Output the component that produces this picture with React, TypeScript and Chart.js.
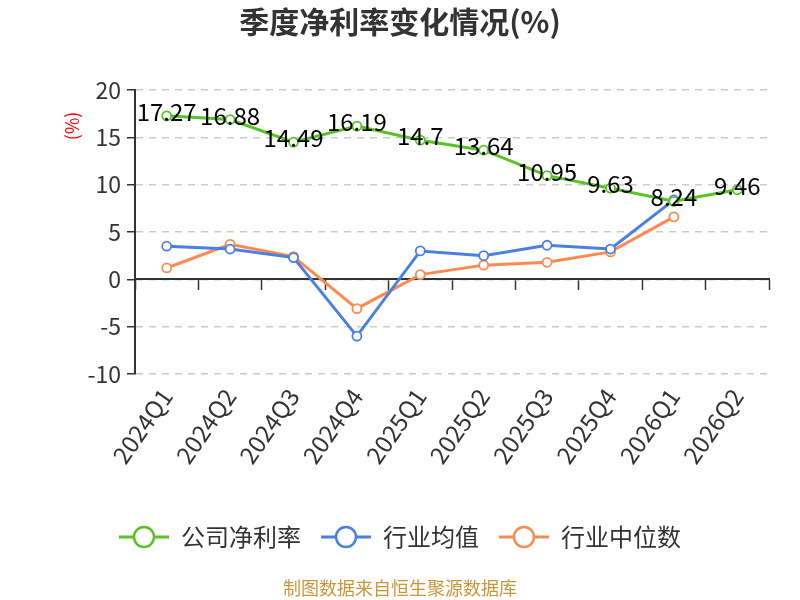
import React, { useEffect, useRef } from "react";
import { Chart, registerables } from "chart.js";

Chart.register(...registerables);

const categories = ["2024Q1", "2024Q2", "2024Q3", "2024Q4", "2025Q1", "2025Q2", "2025Q3", "2025Q4", "2026Q1", "2026Q2"];
const companyNetMargin = [17.27, 16.88, 14.49, 16.19, 14.7, 13.64, 10.95, 9.63, 8.24, 9.46];
const industryAverage = [3.5, 3.2, 2.3, -6.0, 3.0, 2.5, 3.6, 3.2, 8.4, null];
const industryMedian = [1.2, 3.7, 2.4, -3.1, 0.5, 1.5, 1.8, 2.9, 6.6, null];
const yTicks = { min: -10, max: 20, step: 5 };

const seriesNames = ["公司净利率", "行业均值", "行业中位数"];
const colors = ["#58c322", "#4a7fe3", "#ff8a50"];
const FONT = "'Noto Sans CJK SC', 'Noto Sans', sans-serif";

function makeLegendIcon(color: string): HTMLCanvasElement {
  const c = document.createElement("canvas");
  c.width = 50;
  c.height = 26;
  const ctx = c.getContext("2d")!;
  ctx.strokeStyle = color;
  ctx.lineWidth = 3;
  ctx.beginPath();
  ctx.moveTo(0, 13);
  ctx.lineTo(50, 13);
  ctx.stroke();
  ctx.beginPath();
  ctx.arc(25, 13, 10, 0, Math.PI * 2);
  ctx.fillStyle = "#fff";
  ctx.fill();
  ctx.lineWidth = 2.5;
  ctx.stroke();
  return c;
}

const extrasPlugin = {
  id: "extras",
  afterDatasetsDraw(chart: any) {
    const ctx = chart.ctx;
    const meta = chart.getDatasetMeta(0);
    ctx.save();
    ctx.font = `24px ${FONT}`;
    ctx.fillStyle = "#000";
    ctx.textAlign = "center";
    ctx.textBaseline = "middle";
    meta.data.forEach((pt: any, i: number) => {
      const v = companyNetMargin[i];
      if (v == null) return;
      ctx.fillText(String(v), pt.x, pt.y - 4);
    });
    ctx.restore();
  },
  afterDraw(chart: any) {
    const ctx = chart.ctx;
    const area = chart.chartArea;
    ctx.save();
    ctx.translate(area.left - 63, area.top + 36);
    ctx.rotate(-Math.PI / 2);
    ctx.font = `18px ${FONT}`;
    ctx.fillStyle = "#ff0000";
    ctx.textAlign = "center";
    ctx.textBaseline = "middle";
    ctx.fillText("(%)", 0, 0);
    ctx.restore();
    ctx.save();
    ctx.font = `18px ${FONT}`;
    ctx.fillStyle = "#c9973a";
    ctx.textAlign = "center";
    ctx.textBaseline = "middle";
    ctx.fillText("制图数据来自恒生聚源数据库", chart.width / 2, chart.height - 12);
    ctx.restore();
  },
};

export default function App() {
  const ref = useRef<HTMLCanvasElement | null>(null);
  useEffect(() => {
    document.body.style.margin = "0";
    const icons = colors.map(makeLegendIcon);
    const mk = (i: number, data: (number | null)[]) => ({
      label: seriesNames[i],
      data,
      borderColor: colors[i],
      backgroundColor: "#fff",
      borderWidth: 3,
      pointRadius: 4.5,
      pointBorderWidth: 1.8,
      pointBackgroundColor: "#fff",
      pointBorderColor: colors[i],
      tension: 0,
      spanGaps: false,
      xAxisID: "x",
      yAxisID: "y",
    });
    const chart = new Chart(ref.current!, {
      type: "line",
      data: {
        labels: categories,
        datasets: [mk(0, companyNetMargin), mk(1, industryAverage), mk(2, industryMedian)],
      },
      plugins: [extrasPlugin],
      options: {
        animation: false,
        responsive: false,
        maintainAspectRatio: false,
        layout: { padding: { top: 0, right: 0, bottom: 41, left: 0 } },
        plugins: {
          title: {
            display: true,
            text: "季度净利率变化情况(%)",
            font: { family: FONT, size: 30, weight: "bold" },
            color: "#333",
            padding: { top: 4, bottom: 50 },
          },
          legend: {
            position: "bottom",
            labels: {
              usePointStyle: true,
              pointStyleWidth: 50,
              padding: 20,
              font: { family: FONT, size: 24 },
              color: "#333",
              generateLabels: (c: any) => {
                const items = Chart.defaults.plugins.legend.labels.generateLabels(c);
                items.forEach((it: any, i: number) => {
                  it.pointStyle = icons[i];
                });
                return items;
              },
            },
          },
          tooltip: { enabled: false },
        },
        scales: {
          x: {
            type: "category",
            position: { y: 0 } as any,
            offset: true,
            grid: {
              display: true,
              offset: true,
              drawOnChartArea: false,
              drawTicks: true,
              tickLength: 10,
              tickColor: "#333",
              tickWidth: 1.5,
            },
            border: { display: true, color: "#333", width: 2 },
            ticks: { display: false },
          },
          x2: {
            type: "category",
            position: "bottom",
            labels: categories,
            offset: true,
            grid: { display: false, drawTicks: false },
            border: { display: false },
            ticks: {
              minRotation: 55,
              maxRotation: 55,
              padding: 9,
              autoSkip: false,
              font: { family: FONT, size: 24 },
              color: "#333",
            },
            afterFit: (s: any) => {
              s.height = 131;
            },
          },
          y: {
            type: "linear",
            position: "left",
            min: yTicks.min,
            max: yTicks.max,
            ticks: {
              stepSize: yTicks.step,
              padding: 6,
              font: { family: FONT, size: 23 },
              color: "#333",
            },
            grid: {
              color: "#cccccc",
              lineWidth: 1.5,
              tickColor: "#333",
              tickLength: 8,
              tickWidth: 1.5,
            },
            border: { display: true, color: "#333", width: 2, dash: [7, 6] },
            afterFit: (s: any) => {
              s.width = 135;
            },
          },
          yRight: {
            type: "linear",
            position: "right",
            display: true,
            grid: { display: false, drawTicks: false },
            border: { display: false },
            ticks: { display: false },
            afterFit: (s: any) => {
              s.width = 31;
            },
          },
        },
      } as any,
    });
    return () => chart.destroy();
  }, []);
  return (
    <div style={{ position: "fixed", left: 0, top: 0, width: 800, height: 600 }}>
      <canvas ref={ref} width={800} height={600} style={{ width: 800, height: 600 }} />
    </div>
  );
}
